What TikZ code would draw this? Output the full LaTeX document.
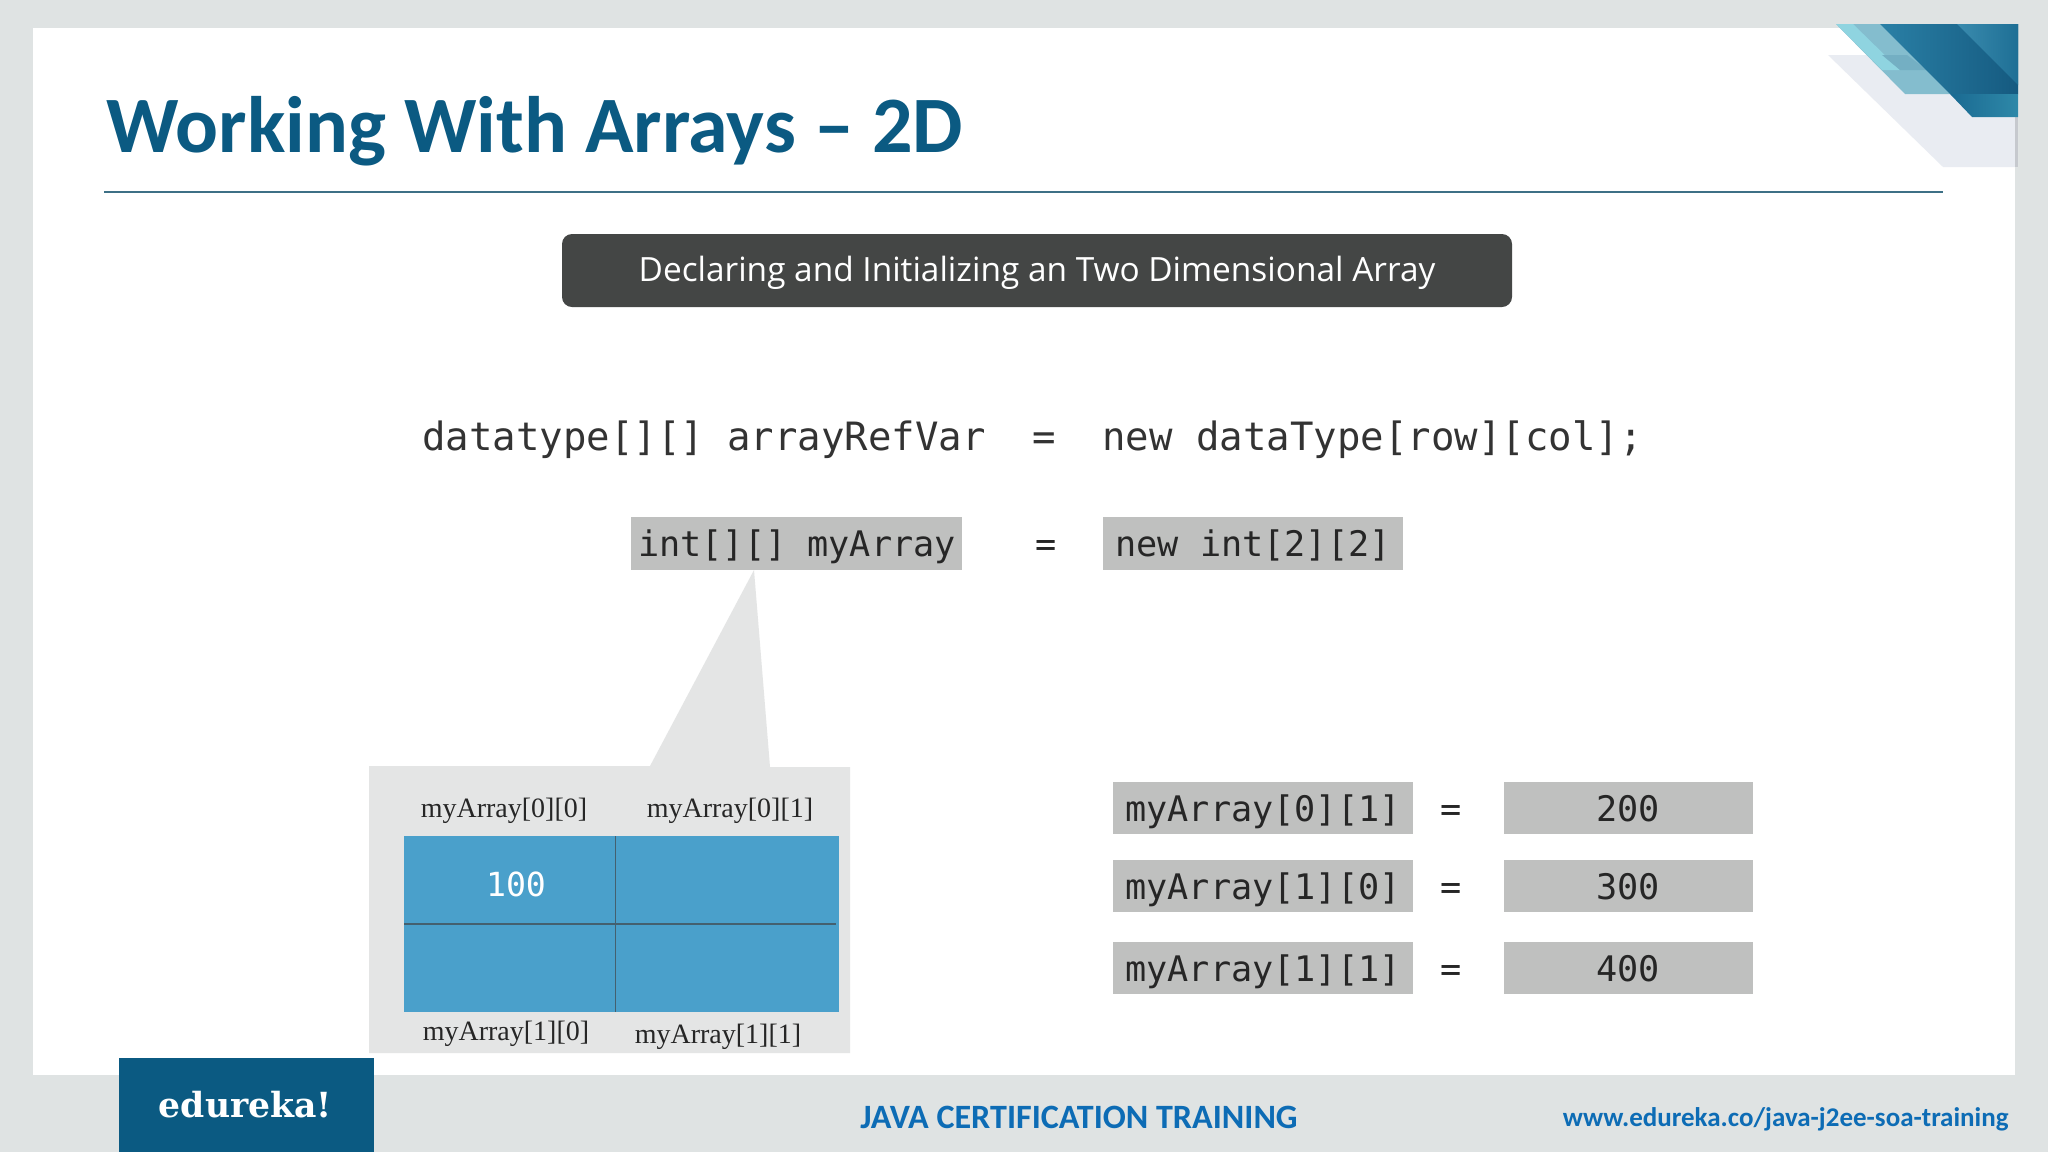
\documentclass[tikz,border=0pt]{standalone}
\usepackage{fontspec}
\setmainfont{Carlito}
\newfontfamily\codefont{DejaVu Sans Mono}
\newfontfamily\bodyfont{Open Sans}
\newfontfamily\labelfont{Liberation Serif}
\newfontfamily\logofont{DejaVu Serif}
\definecolor{pagebg}{HTML}{DFE3E3}
\definecolor{navy}{HTML}{0B5A82}
\definecolor{boxgrey}{HTML}{BFC0BF}
\definecolor{panel}{HTML}{E4E5E5}
\definecolor{cell}{HTML}{4AA0CB}
\definecolor{gridline}{HTML}{44606F}
\definecolor{footblue}{HTML}{0D6CB5}
\definecolor{banner}{HTML}{444645}
\definecolor{rulecol}{HTML}{3D7086}
\definecolor{cornergrey}{HTML}{E9ECF2}
\definecolor{cornerteal}{HTML}{84BDCE}
\definecolor{cornerpale}{HTML}{8FD4E0}
\definecolor{cornermid}{HTML}{74AFC3}
\definecolor{cornerdarkA}{HTML}{2A80A6}
\definecolor{cornerdarkB}{HTML}{155A80}
\definecolor{cornerstripA}{HTML}{3A8BAE}
\definecolor{cornerstripB}{HTML}{1E6F95}
\definecolor{cornerbandA}{HTML}{1A6A92}
\definecolor{cornerbandB}{HTML}{2E88A8}
\tikzset{
 code/.style={inner sep=0pt,anchor=base,font=\codefont\fontsize{17.6}{20}\selectfont,text=black!85},
 codebig/.style={inner sep=0pt,anchor=base,font=\codefont\fontsize{19.5}{22}\selectfont,text=black!80},
 lab/.style={inner sep=0pt,anchor=base,font=\labelfont\fontsize{14}{16}\selectfont,text=black!85},
}
\begin{document}
\begin{tikzpicture}[x=0.5pt,y=-0.5pt]
\useasboundingbox (0,0) rectangle (2048,1152);
\fill[pagebg] (0,0) rectangle (2048,1152);
\fill[white] (33,28) rectangle (2015,1075);
% corner decoration
\fill[cornergrey] (1828,55) -- (1943,167) -- (2018,167) -- (2018,55) -- cycle;
\fill[black!15!cornergrey] (2015,117) rectangle (2017.5,167);
\fill[cornerteal] (1836,24) -- (1905,94) -- (2018,94) -- (2018,24) -- cycle;
\fill[cornerpale] (1836,24) -- (1853,24) -- (1900,70) -- (1882,70) -- cycle;
\fill[cornermid] (1882,55) -- (1900,70) -- (1927,70) -- (1907,55) -- cycle;
\shade[left color=cornerdarkA, right color=cornerdarkB] (1880,24) -- (1950,94) -- (2018,94) -- (2018,24) -- cycle;
\shade[left color=cornerbandA, right color=cornerbandB] (1950,94) -- (1972,117) -- (2018,117) -- (2018,94) -- cycle;
\shade[left color=cornerstripA, right color=cornerstripB] (1957,24) -- (2018,85) -- (2018,24) -- cycle;
% title
\node[inner sep=0pt,anchor=base west,text=navy,font=\fontsize{40}{46}\selectfont\bfseries] (title) at (106,152) {Working With Arrays – 2D};
\draw[rulecol,line width=1.15pt] (104,192) -- (1943,192);
% banner
\node[fill=banner,rounded corners=5pt,minimum width=475pt,minimum height=36.5pt,inner sep=0pt,text height=12pt,text depth=1pt,text=white,font=\bodyfont\fontsize{16.7}{20}\selectfont] (hdr) at (1037,270.5) {Declaring and Initializing an Two Dimensional Array};
% code lines
\node[codebig] (dt) at (704,450) {datatype[][] arrayRefVar};
\node[codebig] (eq1) at (1044,450) {=};
\node[codebig] (nd) at (1372.5,450) {new dataType[row][col];};
\fill[boxgrey] (631,517) rectangle (962,570);
\fill[boxgrey] (1103,517) rectangle (1403,570);
\node[code] (ia) at (797,556) {int[][] myArray};
\node[code] (eq2) at (1046,556) {=};
\node[code] (ni) at (1253,556) {new int[2][2]};
% callout
\fill[panel] (754,570) -- (770,767) -- (850,767) -- (850,1053) -- (369,1053) -- (369,766) -- (650,766) -- cycle;
\fill[cell] (404,836) rectangle (839,1012);
\draw[gridline,line width=0.6pt] (615.5,836) -- (615.5,1012);
\draw[gridline,line width=0.6pt] (404,924) -- (836,924);
\node[lab] (a00) at (504,817) {myArray[0][0]};
\node[lab] (a01) at (730,817) {myArray[0][1]};
\node[lab] (a10) at (506,1040) {myArray[1][0]};
\node[lab] (a11) at (718,1043) {myArray[1][1]};
\node[inner sep=0pt,anchor=base,text=white,font=\codefont\fontsize{16.6}{18}\selectfont] (v100) at (516,896) {100};
% assignments
\foreach \n/\t/\b/\l/\v in {r1/782/834/myArray[0][1]/200,r2/860/912/myArray[1][0]/300,r3/942/994/myArray[1][1]/400}{
  \fill[boxgrey] (1112.5,\t) rectangle (1413,\b);
  \fill[boxgrey] (1504,\t) rectangle (1753,\b);
  \node[code] (\n l) at (1263,\b-13) {\l};
  \node[code] (\n e) at (1451,\b-13) {=};
  \node[code] (\n v) at (1628,\b-13) {\v};
}
% footer
\fill[navy] (119,1058) rectangle (374,1152);
\node[inner sep=0pt,anchor=base,text=white,font=\logofont\fontsize{17.3}{20}\selectfont\bfseries] (logo) at (245.5,1117.5) {edureka!};
\node[inner sep=0pt,anchor=base west,text=footblue,font=\fontsize{17.05}{20}\selectfont\bfseries] (jt) at (860,1128) {JAVA CERTIFICATION TRAINING};
\node[inner sep=0pt,anchor=base east,text=footblue,font=\fontsize{13.5}{18}\selectfont\bfseries] (url) at (2009,1126) {www.edureka.co/java-j2ee-soa-training};
\end{tikzpicture}
\end{document}
